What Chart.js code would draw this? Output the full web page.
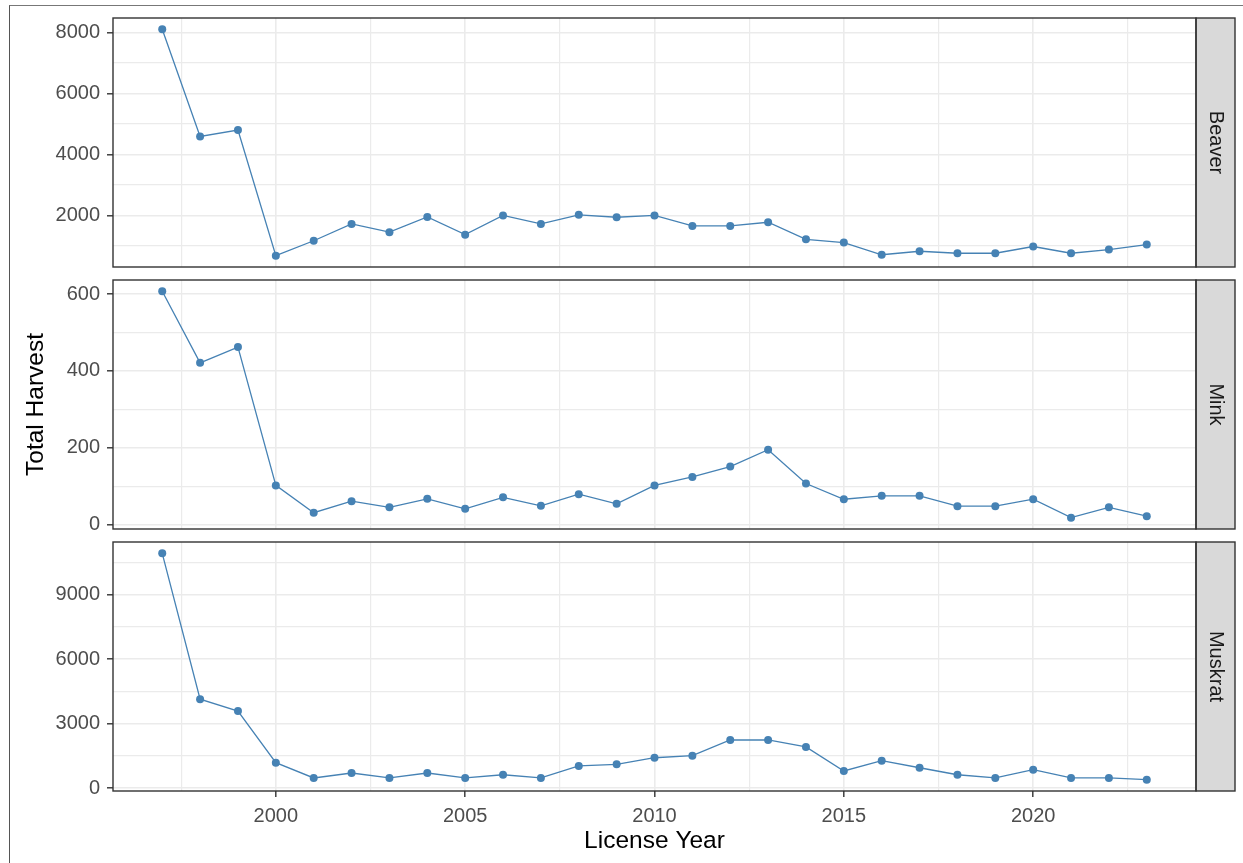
<!DOCTYPE html>
<html>
<head>
<meta charset="utf-8">
<title>Total Harvest by License Year</title>
<script src="https://cdn.jsdelivr.net/npm/chart.js@4.4.1/dist/chart.umd.min.js"></script>
<style>
  html, body { margin: 0; padding: 0; background: #fff; }
  #page { position: relative; width: 1243px; height: 863px; overflow: hidden; }
  #frame { position: absolute; left: 9px; top: 5px; right: -2px; bottom: -2px;
           border-left: 1px solid #555; border-top: 1px solid #777; }
  #page canvas { position: absolute; left: 0; }
</style>
</head>
<body>
<div id="page">
  <div id="frame"></div>
  <canvas id="beaverChart" width="1243" height="274" style="top:0px"></canvas>
  <canvas id="minkChart" width="1243" height="262" style="top:274px"></canvas>
  <canvas id="muskratChart" width="1243" height="327" style="top:536px"></canvas>
</div>
<script>
// ---- data ----
const years = [1997, 1998, 1999, 2000, 2001, 2002, 2003, 2004, 2005, 2006, 2007, 2008, 2009,
  2010, 2011, 2012, 2013, 2014, 2015, 2016, 2017, 2018, 2019, 2020, 2021, 2022, 2023];

const beaver = [8100, 4590, 4800, 680, 1170, 1720, 1450, 1950, 1370, 2000, 1720, 2020, 1940,
  2000, 1655, 1655, 1775, 1215, 1110, 710, 825, 760, 760, 980, 760, 880, 1045];

const mink = [607, 421, 462, 102, 31, 61, 45, 67, 41, 71, 49, 79, 54,
  102, 124, 151, 195, 107, 66, 75, 75, 48, 48, 66, 18, 45, 22];

const muskrat = [10920, 4140, 3590, 1190, 480, 710, 480, 710, 480, 630, 480, 1040, 1115,
  1420, 1515, 2245, 2245, 1920, 805, 1285, 955, 630, 480, 865, 480, 480, 400];

// facet labels and axis breaks
const facetNames = ["Beaver", "Mink", "Muskrat"];
const xBreaks = [2000, 2005, 2010, 2015, 2020];
const beaverBreaks = [2000, 4000, 6000, 8000];
const minkBreaks = [0, 200, 400, 600];
const muskratBreaks = [0, 3000, 6000, 9000];

const LINE = "#4682B4";
const FONT = "'Liberation Sans', Arial, sans-serif";

// range padded 5% each side, like a default continuous scale
function expandRange(vals) {
  const lo = Math.min(...vals), hi = Math.max(...vals);
  const pad = (hi - lo) * 0.05;
  return [lo - pad, hi + pad];
}

// majors plus half-way minors that fall inside [min, max]
function gridTicks(majors, min, max) {
  const step = majors[1] - majors[0];
  const out = [];
  for (let v = majors[0] - step; v <= majors[majors.length - 1] + step + 1e-9; v += step / 2) {
    if (v >= min && v <= max) out.push({ value: v, isMajor: majors.some(m => Math.abs(m - v) < 1e-9) });
  }
  return out;
}

// panel border + grey strip on the right
const facetFrame = {
  id: "facetFrame",
  afterDraw(chart, args, opts) {
    const { ctx, chartArea: a } = chart;
    const h = a.bottom - a.top;
    ctx.save();
    ctx.fillStyle = "#D9D9D9";
    ctx.fillRect(a.right, a.top, 39, h);
    ctx.strokeStyle = "#333333";
    ctx.lineWidth = 1.4;
    ctx.strokeRect(a.right, a.top, 39, h);
    ctx.strokeRect(a.left, a.top, a.right - a.left, h);
    ctx.translate(a.right + 19.5, a.top + h / 2);
    ctx.rotate(Math.PI / 2);
    ctx.fillStyle = "#1A1A1A";
    ctx.font = "20px " + FONT;
    ctx.textAlign = "center";
    ctx.textBaseline = "middle";
    ctx.fillText(opts.label, 0, 0);
    ctx.restore();
  }
};

const gridLine = {
  color: "#EBEBEB",
  lineWidth: c => (c.tick && c.tick.isMajor ? 1.6 : 1.2),
  tickColor: c => (c.tick && c.tick.isMajor ? "#333333" : "rgba(0,0,0,0)"),
  tickWidth: 1.4,
  tickLength: 6
};

function makeFacet(id, name, values, yBreaks, cfg) {
  const [yMin, yMax] = expandRange(values);
  const [xMin, xMax] = expandRange(years);

  const xScale = {
    type: "linear",
    min: xMin,
    max: xMax,
    afterBuildTicks: s => { s.ticks = gridTicks(xBreaks, xMin, xMax); },
    afterFit: s => {
      s.height = cfg.xHeight;
      s.paddingLeft = s.paddingRight = 0;
    },
    border: { display: false },
    grid: Object.assign({}, gridLine, { drawTicks: cfg.showX }),
    ticks: {
      display: cfg.showX,
      autoSkip: false,
      maxRotation: 0,
      padding: 7,
      color: "#4D4D4D",
      font: { family: FONT, size: 20 },
      callback: (v, i, t) => (t[i].isMajor ? String(v) : "")
    },
    title: {
      display: cfg.showX,
      text: "License Year",
      color: "#000",
      font: { family: FONT, size: 24.5 },
      padding: { top: 0, bottom: 6.7 }
    }
  };

  const yScale = {
    type: "linear",
    min: yMin,
    max: yMax,
    afterBuildTicks: s => { s.ticks = gridTicks(yBreaks, yMin, yMax); },
    afterFit: s => {
      s.width = 113;
      s.paddingTop = s.paddingBottom = 0;
    },
    border: { display: false },
    grid: gridLine,
    ticks: {
      autoSkip: false,
      padding: 7,
      color: "#4D4D4D",
      font: { family: FONT, size: 20 },
      callback: (v, i, t) => (t[i].isMajor ? String(v) : "")
    },
    title: {
      display: cfg.showYTitle,
      text: "Total Harvest",
      color: "#000",
      font: { family: FONT, size: 24.5 },
      padding: { top: 22, bottom: 0 }
    }
  };

  return new Chart(document.getElementById(id), {
    type: "line",
    data: {
      datasets: [{
        label: name,
        data: years.map((y, i) => ({ x: y, y: values[i] })),
        borderColor: LINE,
        borderWidth: 1.3,
        backgroundColor: LINE,
        pointBackgroundColor: LINE,
        pointBorderWidth: 0,
        pointRadius: 4,
        tension: 0
      }]
    },
    options: {
      responsive: false,
      animation: false,
      devicePixelRatio: 1,
      layout: { padding: { left: 0, right: 47, top: cfg.padTop, bottom: cfg.padBottom } },
      plugins: {
        legend: { display: false },
        tooltip: { enabled: false },
        facetFrame: { label: name }
      },
      scales: { x: xScale, y: yScale }
    },
    plugins: [facetFrame]
  });
}

makeFacet("beaverChart", facetNames[0], beaver, beaverBreaks,
  { padTop: 18, padBottom: 7, xHeight: 0, showX: false, showYTitle: false });
makeFacet("minkChart", facetNames[1], mink, minkBreaks,
  { padTop: 6, padBottom: 7, xHeight: 0, showX: false, showYTitle: true });
makeFacet("muskratChart", facetNames[2], muskrat, muskratBreaks,
  { padTop: 6, padBottom: 0, xHeight: 72, showX: true, showYTitle: false });
</script>
</body>
</html>
